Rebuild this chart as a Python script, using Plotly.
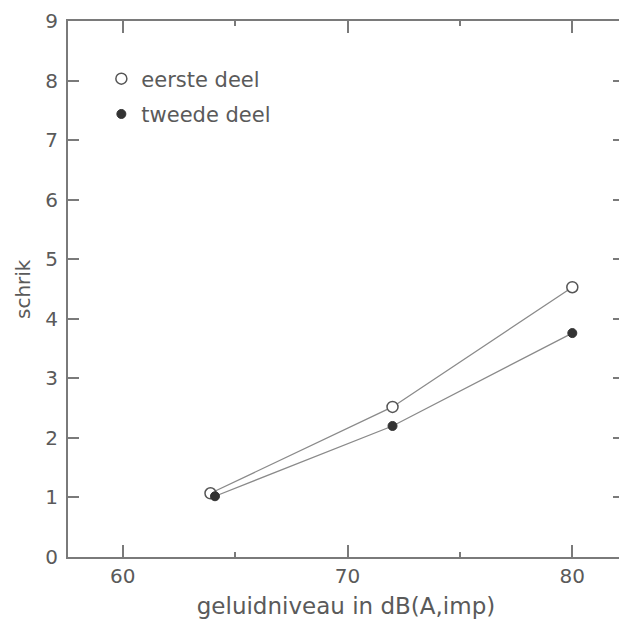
import plotly.graph_objects as go

levels_first = [63.9, 72, 80]
schrik_first = [1.07, 2.52, 4.53]
levels_second = [64.1, 72, 80]
schrik_second = [1.02, 2.2, 3.76]
series_names = ["eerste deel", "tweede deel"]
x_ticks = [60, 70, 80]
y_ticks = list(range(0, 10))

axis_col = "#7a7a7a"
text_col = "#5a5a5a"
font_family = "DejaVu Sans, sans-serif"

fig = go.Figure()
# connecting lines
fig.add_trace(go.Scatter(x=levels_first, y=schrik_first, mode="lines",
                         line=dict(color="#8a8a8a", width=1.3), showlegend=False, hoverinfo="skip"))
fig.add_trace(go.Scatter(x=levels_second, y=schrik_second, mode="lines",
                         line=dict(color="#8a8a8a", width=1.3), showlegend=False, hoverinfo="skip"))
# markers
fig.add_trace(go.Scatter(x=levels_first, y=schrik_first, mode="markers", name=series_names[0],
                         legendgroup="a",
                         marker=dict(symbol="circle", size=11, color="white",
                                     line=dict(color="#555555", width=1.5))))
fig.add_trace(go.Scatter(x=levels_second, y=schrik_second, mode="markers", name=series_names[1],
                         legendgroup="b",
                         marker=dict(symbol="circle", size=9, color="#333333",
                                     line=dict(color="#333333", width=1))))

fig.update_layout(
    width=619, height=615,
    margin=dict(l=60, r=1, t=12, b=66),
    paper_bgcolor="white", plot_bgcolor="white",
    font=dict(family=font_family, color=text_col, size=19),
    legend=dict(x=0.06, y=0.93, xanchor="left", yanchor="top",
                bgcolor="rgba(0,0,0,0)", font=dict(size=21, color=text_col),
                itemwidth=30, tracegroupgap=5),
    annotations=[dict(text="schrik", textangle=-90, xref="paper", yref="paper",
                      x=0, y=0.5, xanchor="center", yanchor="middle", xshift=-45,
                      showarrow=False, font=dict(size=20, color=text_col))],
)
fig.update_xaxes(
    range=[57.56, 82.3], tickvals=x_ticks, ticktext=[str(v) for v in x_ticks],
    ticks="inside", ticklen=12, tickwidth=1.5, tickcolor=axis_col,
    minor=dict(tickvals=[65, 75], ticks="inside", ticklen=5, tickwidth=1.5, tickcolor=axis_col),
    showline=True, linecolor=axis_col, linewidth=2, mirror="ticks",
    showgrid=False, zeroline=False,
    tickfont=dict(size=20, color=text_col),
    title=dict(text="geluidniveau in dB(A,imp)", font=dict(size=23, color=text_col), standoff=11),
)
fig.update_yaxes(
    range=[0, 9], tickvals=y_ticks, ticktext=[str(v) for v in y_ticks],
    ticks="inside", ticklen=11, tickwidth=1.5, tickcolor=axis_col,
    showline=True, linecolor=axis_col, linewidth=2, mirror="ticks",
    showgrid=False, zeroline=False, ticklabelstandoff=4,
    tickfont=dict(size=20, color=text_col),
)

fig.write_html("out.html")
